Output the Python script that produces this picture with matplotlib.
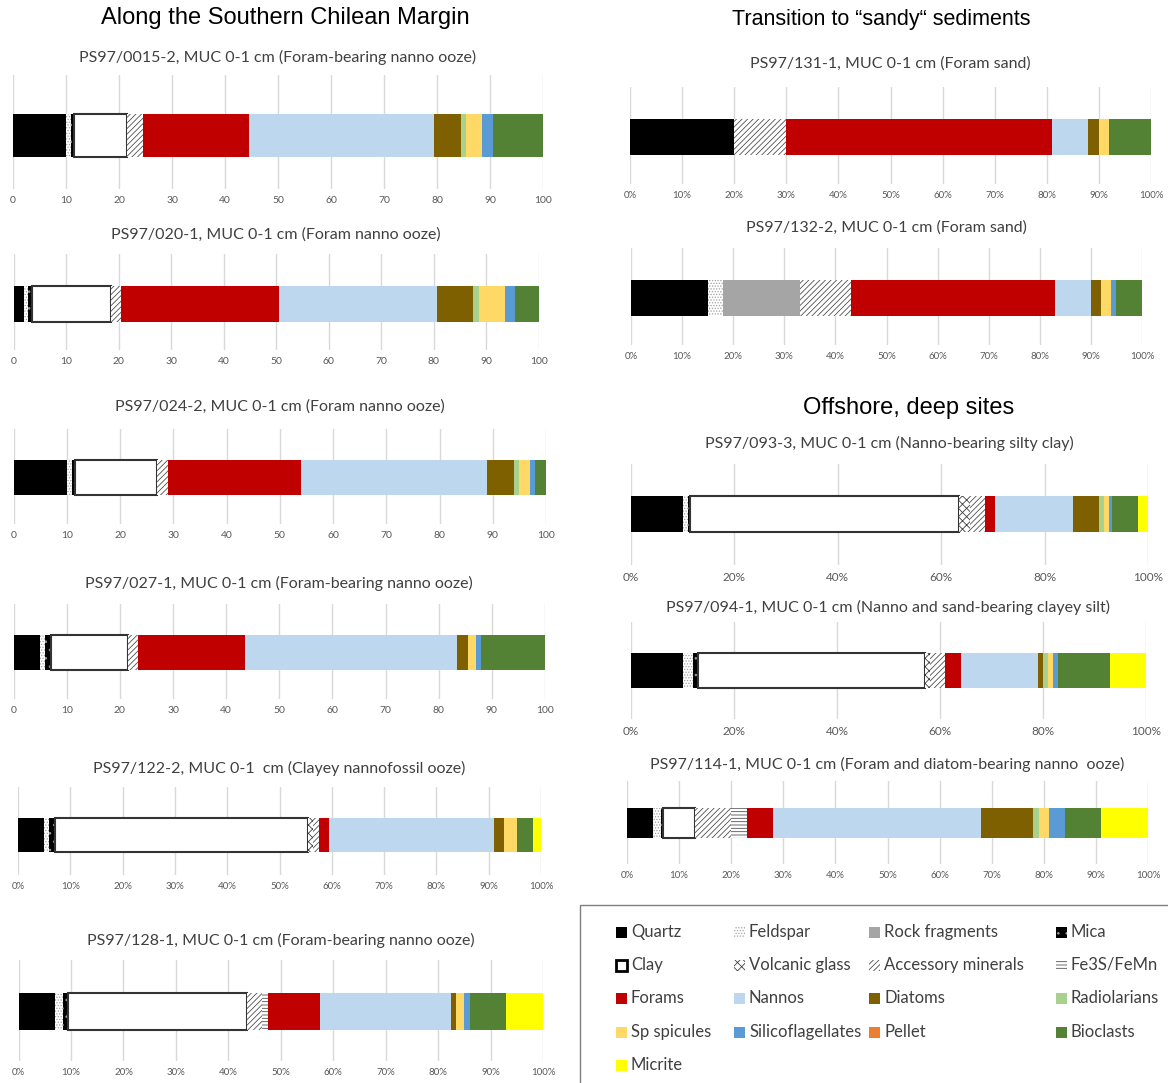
import matplotlib.pyplot as plt
from matplotlib.patches import Rectangle
from matplotlib.ticker import FuncFormatter

plt.rcParams['hatch.linewidth'] = 0.6

W, H = 1168, 1083

components = ["Quartz", "Feldspar", "Rock fragments", "Mica", "Clay", "Volcanic glass",
              "Accessory minerals", "Fe3S/FeMn", "Forams", "Nannos", "Diatoms",
              "Radiolarians", "Sp spicules", "Silicoflagellates", "Pellet", "Bioclasts",
              "Micrite"]
face_colors = ["#000000", "#ffffff", "#a5a5a5", "#000000", "#ffffff", "#ffffff",
               "#ffffff", "#ffffff", "#c00000", "#bdd7ee", "#7f6000", "#a9d18e",
               "#ffd966", "#5b9bd5", "#ed7d31", "#548235", "#ffff00"]
hatch_colors = ["#000000", "#a0a0a0", "#a5a5a5", "#9a9a9a", "#333333", "#404040",
                "#505050", "#505050", "#c00000", "#bdd7ee", "#7f6000", "#a9d18e",
                "#ffd966", "#5b9bd5", "#ed7d31", "#548235", "#ffff00"]
hatches = [None, "......", None, "..", None, "xxxx", "//////", "-----", None, None,
           None, None, None, None, None, None, None]

# percentages per component, same order as `components`
ps97_0015_2 = [10, 1, 0, 0.5, 10, 0, 3, 0, 20, 35, 5, 1, 3, 2, 0, 9.5, 0]
ps97_020_1 = [2, 0.75, 0, 0.75, 15, 0, 2, 0, 30, 30, 7, 1, 5, 2, 0, 4.5, 0]
ps97_024_2 = [10, 1, 0, 0.5, 15.5, 0, 2, 0, 25, 35, 5, 1, 2, 1, 0, 2, 0]
ps97_027_1 = [5, 1, 0, 1, 14.5, 0, 2, 0, 20, 40, 2, 0, 1.5, 1, 0, 12, 0]
ps97_122_2 = [5, 1, 0, 1, 48.5, 1, 1, 0, 2, 31.5, 2, 0, 2.5, 0, 0, 3, 1.5]
ps97_128_1 = [7, 1.5, 0, 1, 34, 0, 3, 1, 10, 25, 1, 0, 1.5, 1, 0, 7, 7]
ps97_131_1 = [20, 0, 0, 0, 0, 0, 10, 0, 51, 7, 2, 0, 2, 0, 0, 8, 0]
ps97_132_2 = [15, 3, 15, 0, 0, 0, 10, 0, 40, 7, 2, 0, 2, 1, 0, 5, 0]
ps97_093_3 = [10, 1, 0, 0.5, 52, 2, 3, 0, 2, 15, 5, 1, 1, 0.5, 0, 5, 2]
ps97_094_1 = [10, 2, 0, 1, 44, 1, 3, 0, 3, 15, 1, 1, 1, 1, 0, 10, 7]
ps97_114_1 = [5, 1.5, 0, 0.5, 6, 0, 7, 3, 5, 40, 10, 1, 2, 3, 0, 7, 9]

titles = [
    "PS97/0015-2, MUC 0-1 cm (Foram-bearing nanno ooze)",
    "PS97/020-1, MUC 0-1 cm (Foram nanno ooze)",
    "PS97/024-2, MUC 0-1 cm (Foram nanno ooze)",
    "PS97/027-1, MUC 0-1 cm (Foram-bearing nanno ooze)",
    "PS97/122-2, MUC 0-1  cm (Clayey nannofossil ooze)",
    "PS97/128-1, MUC 0-1 cm (Foram-bearing nanno ooze)",
    "PS97/131-1, MUC 0-1 cm (Foram sand)",
    "PS97/132-2, MUC 0-1 cm (Foram sand)",
    "PS97/093-3, MUC 0-1 cm (Nanno-bearing silty clay)",
    "PS97/094-1, MUC 0-1 cm (Nanno and sand-bearing clayey silt)",
    "PS97/114-1, MUC 0-1 cm (Foram and diatom-bearing nanno  ooze)",
]
samples = [ps97_0015_2, ps97_020_1, ps97_024_2, ps97_027_1, ps97_122_2, ps97_128_1,
           ps97_131_1, ps97_132_2, ps97_093_3, ps97_094_1, ps97_114_1]

# pixel layout: x of 0 and 100, bar top, bar bottom, title y, tick-label y,
# tick step, percent labels, tick font size
layout = [
    (13, 543, 114, 157, 57, 201, 10, False, 7.5),
    (13.6, 539, 286, 322, 235, 362, 10, False, 7.5),
    (13.6, 546, 460, 495, 407, 536, 10, False, 7.5),
    (13.6, 545, 635, 670, 583, 711, 10, False, 7.5),
    (18, 541, 818, 852, 768, 887, 10, True, 7),
    (18.6, 543, 993, 1030, 940, 1073, 10, True, 7),
    (630, 1151, 119, 155, 64, 196, 10, True, 7),
    (631, 1142, 280, 316, 228, 357, 10, True, 7),
    (631, 1148, 496, 532, 443, 577, 20, True, 8.5),
    (631, 1146, 653, 688, 607, 731, 20, True, 8.5),
    (627, 1148, 808, 838, 764, 876, 10, True, 7),
]

section_titles = [("Along the Southern Chilean Margin", 285, 18, 17),
                  ("Transition to \u201csandy\u201c sediments", 881, 20, 15.5),
                  ("Offshore, deep sites", 909, 408, 17)]

fig = plt.figure(figsize=(W / 100, H / 100), dpi=100)

for values, title, (x0, x1, top, bot, ty, ly, step, pct, fs) in zip(samples, titles, layout):
    h = bot - top
    ax_top = top - 0.9 * h
    ax_bot = ly - 12
    ax = fig.add_axes([x0 / W, 1 - ax_bot / H, (x1 - x0) / W, (ax_bot - ax_top) / H])
    left = 0
    for val, face, hc, hatch, name in zip(values, face_colors, hatch_colors, hatches, components):
        if val > 0:
            lw = 1.5 if name == "Clay" else 0
            ax.barh(0, val, left=left, height=1, color=face, edgecolor=hc,
                    hatch=hatch, linewidth=lw)
        left += val
    ax.set_xlim(0, 100)
    ax.set_ylim(-0.5 - (ax_bot - bot) / h, 0.5 + (top - ax_top) / h)
    ax.set_xticks(range(0, 101, step))
    if pct:
        ax.xaxis.set_major_formatter(FuncFormatter(lambda v, p: f"{v:.0f}%"))
    ax.set_yticks([])
    ax.tick_params(axis="x", length=0, pad=5, labelsize=fs, labelcolor="#595959")
    for lab in ax.get_xticklabels():
        lab.set_fontfamily("Lato")
    ax.grid(axis="x", color="#d9d9d9", linewidth=1)
    ax.set_axisbelow(True)
    for sp in ax.spines.values():
        sp.set_visible(False)
    fig.text((x0 + x1) / 2 / W, 1 - ty / H, title, ha="center", va="center",
             fontsize=11.5, family="Lato", color="#404040")

for text, x, y, size in section_titles:
    fig.text(x / W, 1 - y / H, text, ha="center", va="center", fontsize=size,
             family="Liberation Sans", color="black")

# legend box drawn in pixel coordinates
lax = fig.add_axes([0, 0, 1, 1])
lax.set_xlim(0, W)
lax.set_ylim(H, 0)
lax.axis("off")
lax.add_patch(Rectangle((580, 905), 620, 200, fill=False, edgecolor="#7f7f7f", linewidth=1))
col_x = [616, 734, 869, 1056]
row_y = [932, 965, 998, 1032, 1065]
for i, name in enumerate(components):
    r, c = divmod(i, 4)
    x, y = col_x[c], row_y[r]
    lw = 2 if name == "Clay" else 0
    ec = "#000000" if name == "Clay" else hatch_colors[i]
    lax.add_patch(Rectangle((x, y - 5.5), 11, 11, facecolor=face_colors[i], edgecolor=ec,
                            hatch=hatches[i], linewidth=lw))
    lax.text(x + 15, y, name, va="center", ha="left", fontsize=12, family="Lato",
             color="#404040")

fig.savefig("out.png", dpi=100)
